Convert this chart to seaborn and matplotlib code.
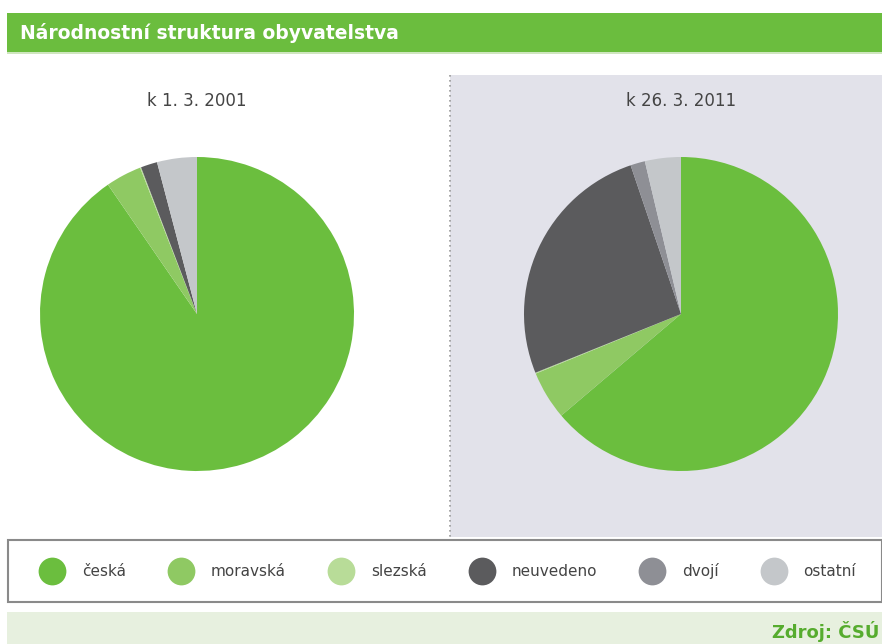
import matplotlib
matplotlib.use("Agg")
import matplotlib.pyplot as plt
from matplotlib.lines import Line2D
from matplotlib.patches import Rectangle
import seaborn as sns

# ---- data ----
categories = ["česká", "moravská", "slezská", "neuvedeno", "dvojí", "ostatní"]
values_2001 = [90.4, 3.7, 0.1, 1.7, 0.0, 4.1]
values_2011 = [63.8, 5.0, 0.1, 25.9, 1.5, 3.7]
subtitles = ["k 1. 3. 2001", "k 26. 3. 2011"]
title = "Národnostní struktura obyvatelstva"
source = "Zdroj: ČSÚ"
colors = ["#6bbe3e", "#8fc963", "#b8dc98", "#5b5b5d", "#8e8f95", "#c4c7ca"]

sns.set_theme(style="white")
plt.rcParams['font.family'] = ['DejaVu Sans']
palette = sns.color_palette(colors)

W, H = 882, 644
fig = plt.figure(figsize=(W / 100, H / 100), dpi=100)
fig.patch.set_facecolor("white")

def px(x0, y0, w, h):
    """convert pixel box (top-left origin) to figure fraction"""
    return [x0 / W, (H - y0 - h) / H, w / W, h / H]

# background pieces
bg = fig.add_axes([0, 0, 1, 1])
bg.set_xlim(0, W)
bg.set_ylim(H, 0)
bg.axis("off")
bg.add_patch(Rectangle((7, 13), W - 7, 39, color="#6bbd3e", lw=0))
bg.add_patch(Rectangle((7, 52), W - 7, 2, color="#cfe6bf", lw=0))
bg.add_patch(Rectangle((450, 75), W - 450, 462, color="#e2e2ea", lw=0))
bg.plot([450, 450], [75, 537], color="#9a9a9a", lw=1.2, ls=(0, (1, 2)))
bg.add_patch(Rectangle((7, 612), W - 7, 32, color="#e7f0df", lw=0))
bg.add_patch(Rectangle((8, 540), W - 8, 62, facecolor="white", edgecolor="#8a8a8a", lw=1.5))
bg.text(20, 33, title, color="white", fontsize=13.5, fontweight="bold", va="center", ha="left")
bg.text(879, 632, source, color="#56ac2e", fontsize=13, fontweight="bold", va="center", ha="right")

# pies
centers = [197, 681]
for cx, vals, sub in zip(centers, [values_2001, values_2011], subtitles):
    r = 157
    ax = fig.add_axes(px(cx - r, 314 - r, 2 * r, 2 * r))
    ax.pie(vals, colors=palette, startangle=90, counterclock=False,
           wedgeprops=dict(linewidth=0))
    ax.set_xlim(-1, 1)
    ax.set_ylim(-1, 1)
    ax.set_aspect("equal")
    ax.axis("off")
    bg.text(cx, 101, sub, fontsize=12, color="#444444", ha="center", va="center")

# legend
handles = [Line2D([0], [0], marker="o", ls="none", markersize=20,
                  markerfacecolor=c, markeredgewidth=0) for c in palette]
fig.legend(handles, categories, ncol=6, loc="center left",
           bbox_to_anchor=(23 / W, (H - 571) / H), frameon=False,
           fontsize=11, columnspacing=2.6, handletextpad=0.96,
           labelcolor="#444444")

fig.savefig("out.png", dpi=100, facecolor=fig.get_facecolor())
